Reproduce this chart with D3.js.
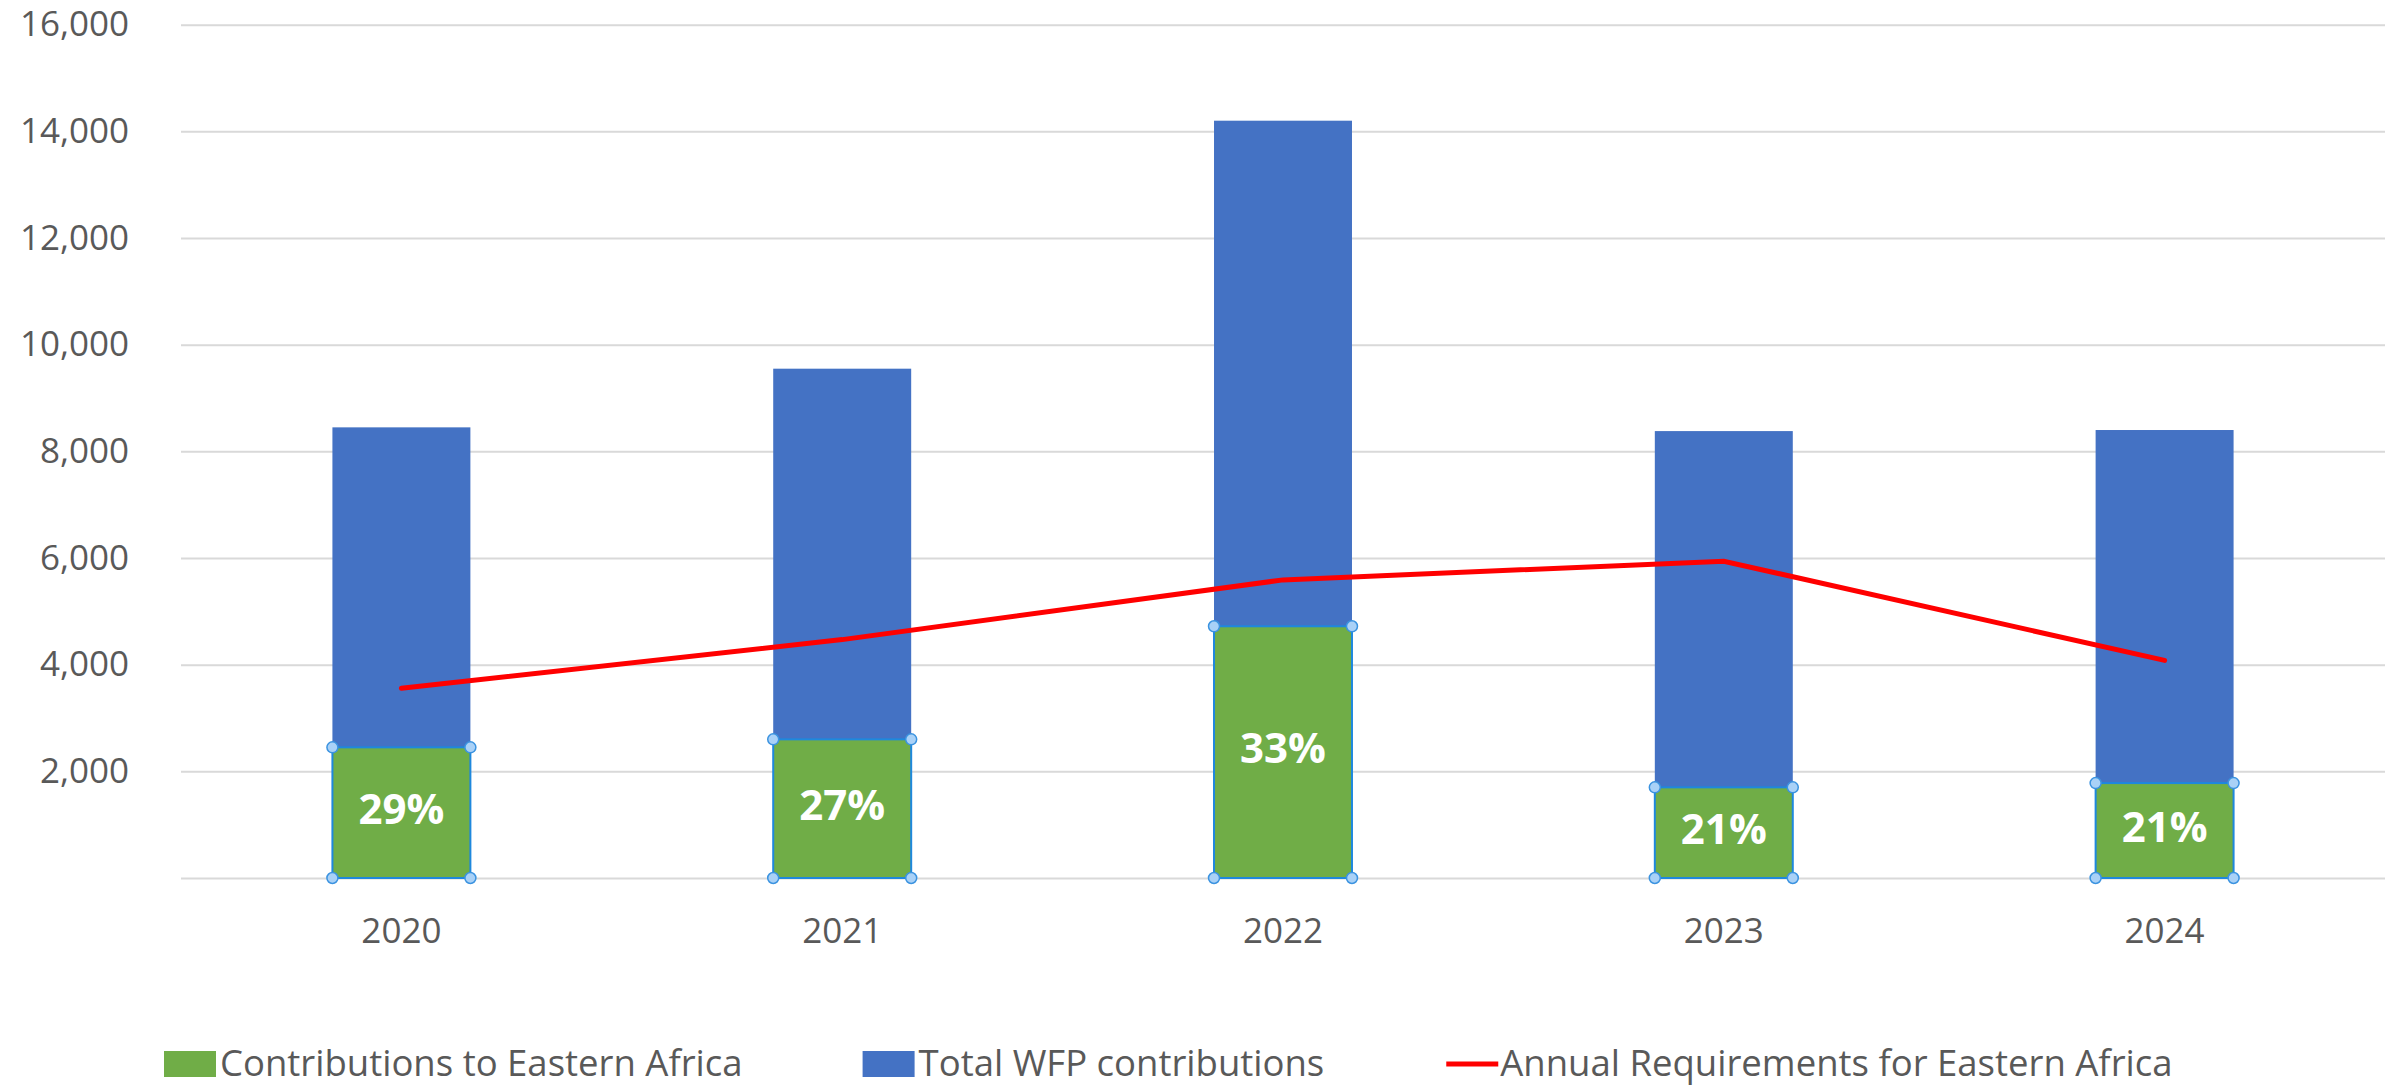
<!DOCTYPE html>
<html>
<head>
<meta charset="utf-8">
<script src="https://cdn.jsdelivr.net/npm/d3@7"></script>
<style>
  body { margin: 0; background: #fff; }
  text { font-family: "Open Sans", "Noto Sans", sans-serif; }
</style>
</head>
<body>
<script>
// chart data (USD millions)
var years = ["2020", "2021", "2022", "2023", "2024"];
var totalWFP = [8450, 9550, 14200, 8380, 8400];
var eastAfrica = [2450, 2600, 4720, 1700, 1780];
var requirements = [3560, 4470, 5590, 5940, 4080];
var shareLabels = ["29%", "27%", "33%", "21%", "21%"];
var yTicks = [0, 2000, 4000, 6000, 8000, 10000, 12000, 14000, 16000];
var legendNames = ["Contributions to Eastern Africa", "Total WFP contributions", "Annual Requirements for Eastern Africa"];

var green = "#70ad47", blue = "#4472c4", red = "#ff0000";
var grey_text = "#595959", grid_col = "#d9d9d9";

var svg = d3.select("body").append("svg").attr("width", 2399).attr("height", 1088);
svg.append("rect").attr("width", 2399).attr("height", 1088).attr("fill", "#fff");

var x = d3.scaleBand().domain(years).range([181, 2385]).paddingInner(0.687).paddingOuter(0.3435);
var y = d3.scaleLinear().domain([0, 16000]).range([878, 24.7]);
var fmt = d3.format(",");

// y axis with gridlines (no label at zero)
var yAxis = svg.append("g")
    .attr("transform", "translate(181,0)")
    .call(d3.axisLeft(y).tickValues(yTicks).tickSize(-2204).tickPadding(52)
        .tickFormat(function(d){ return d === 0 ? "" : fmt(d); }));
yAxis.select(".domain").remove();
yAxis.selectAll("line").attr("stroke", grid_col).attr("stroke-width", 2);
yAxis.selectAll("text").attr("fill", grey_text).style("font-size", "35px");

// x axis labels
var xAxis = svg.append("g")
    .attr("transform", "translate(0," + y(0) + ")")
    .call(d3.axisBottom(x).tickSize(0).tickPadding(40));
xAxis.select(".domain").remove();
xAxis.selectAll("text").attr("fill", grey_text).style("font-size", "35px");

// total WFP bars (behind)
svg.selectAll(".total").data(years).enter().append("rect")
    .attr("class", "total")
    .attr("x", function(d){ return x(d); })
    .attr("width", x.bandwidth())
    .attr("y", function(d, i){ return y(totalWFP[i]); })
    .attr("height", function(d, i){ return y(0) - y(totalWFP[i]); })
    .attr("fill", blue);

// Eastern Africa bars (front), shown selected
svg.selectAll(".ea").data(years).enter().append("rect")
    .attr("class", "ea")
    .attr("x", function(d){ return x(d); })
    .attr("width", x.bandwidth())
    .attr("y", function(d, i){ return y(eastAfrica[i]); })
    .attr("height", function(d, i){ return y(0) - y(eastAfrica[i]); })
    .attr("fill", green)
    .attr("stroke", "#1f88dd")
    .attr("stroke-width", 2);

// requirement line
var line = d3.line()
    .x(function(d, i){ return x(years[i]) + x.bandwidth() / 2; })
    .y(function(d){ return y(d); });
svg.append("path").datum(requirements)
    .attr("d", line)
    .attr("fill", "none")
    .attr("stroke", red)
    .attr("stroke-width", 5)
    .attr("stroke-linecap", "round");

// percentage labels
svg.selectAll(".share").data(years).enter().append("text")
    .attr("class", "share")
    .attr("x", function(d){ return x(d) + x.bandwidth() / 2; })
    .attr("y", function(d, i){ return (y(eastAfrica[i]) + y(0)) / 2 - 4; })
    .attr("dy", "0.36em")
    .attr("text-anchor", "middle")
    .attr("fill", "#fff")
    .style("font-size", "42px")
    .style("font-weight", "bold")
    .text(function(d, i){ return shareLabels[i]; });

// selection handles at green bar corners
var handles = [];
years.forEach(function(d, i){
    var x0 = x(d), x1 = x(d) + x.bandwidth();
    handles.push([x0, y(eastAfrica[i])], [x1, y(eastAfrica[i])], [x0, y(0)], [x1, y(0)]);
});
svg.selectAll(".handle").data(handles).enter().append("circle")
    .attr("class", "handle")
    .attr("cx", function(d){ return d[0]; })
    .attr("cy", function(d){ return d[1]; })
    .attr("r", 5.5)
    .attr("fill", "#a9d1f7")
    .attr("stroke", "#3b93e0")
    .attr("stroke-width", 1.5);

// legend
var legend = svg.append("g").attr("transform", "translate(164,1064)");
var lx = 0;
legendNames.forEach(function(name, i){
    var g = legend.append("g").attr("transform", "translate(" + lx + ",0)");
    if (i < 2) {
        g.append("rect").attr("x", 0).attr("y", -13).attr("width", 52).attr("height", 26)
            .attr("fill", i === 0 ? green : blue);
    } else {
        g.append("line").attr("x1", 2).attr("x2", 54).attr("y1", 0).attr("y2", 0)
            .attr("stroke", red).attr("stroke-width", 5);
    }
    var t = g.append("text").attr("x", 56).attr("dy", "0.33em")
        .attr("fill", grey_text).style("font-size", "36.5px").text(name);
    lx += 56 + t.node().getComputedTextLength() + 120;
});
</script>
</body>
</html>
